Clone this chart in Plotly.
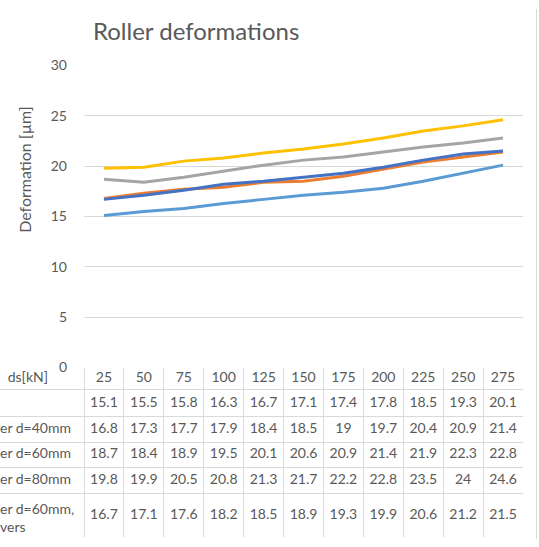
import plotly.graph_objects as go

# ---------------- data ----------------
loads = [25, 50, 75, 100, 125, 150, 175, 200, 225, 250, 275]
header_label = "ds[kN]"
series_labels = ["", "er d=40mm", "er d=60mm", "er d=80mm", "er d=60mm,<br>vers"]
s1 = [15.1, 15.5, 15.8, 16.3, 16.7, 17.1, 17.4, 17.8, 18.5, 19.3, 20.1]
s2 = [16.8, 17.3, 17.7, 17.9, 18.4, 18.5, 19, 19.7, 20.4, 20.9, 21.4]
s3 = [18.7, 18.4, 18.9, 19.5, 20.1, 20.6, 20.9, 21.4, 21.9, 22.3, 22.8]
s4 = [19.8, 19.9, 20.5, 20.8, 21.3, 21.7, 22.2, 22.8, 23.5, 24, 24.6]
s5 = [16.7, 17.1, 17.6, 18.2, 18.5, 18.9, 19.3, 19.9, 20.6, 21.2, 21.5]
y_ticks = [0, 5, 10, 15, 20, 25, 30]
title_text = "Roller deformations"
y_title = "Deformation [µm]"

# ---------------- style ----------------
W, H = 539, 547
PL, PR, PT, PB, TB = 84, 523, 58.3, 370, 545
row_h = [23, 28, 26, 26, 27, 45]
colors = ["#5B9BD5", "#ED7D31", "#A5A5A5", "#FFC000", "#4472C4"]
grid = "#D9D9D9"
txt = "#595959"
FONT = "Lato"
HEADER_LABEL_RIGHT = 48  # px where the header label ends
MULTILINE_SHIFT = 4      # px downward shift for two-line labels

series = [s1, s2, s3, s4, s5]
idx = list(range(len(loads)))
ncol = len(loads)
colw = (PR - PL) / ncol
x2lo = -0.5 - PL / colw

bounds = [0]
for h in row_h:
    bounds.append(bounds[-1] + h)
centers = [(bounds[i] + bounds[i + 1]) / 2 for i in range(len(row_h))]

fig = go.Figure()

# chart lines
for s, c in zip(series, colors):
    fig.add_trace(go.Scatter(x=idx, y=s, mode="lines", line=dict(color=c, width=3),
                             xaxis="x", yaxis="y", hoverinfo="skip", showlegend=False))

def fmt(v):
    return f"{v:g}"

# table text
rows_text = [[str(l) for l in loads]] + [[fmt(v) for v in s] for s in series]
row_labels = [header_label] + series_labels
for r, (vals, lab) in enumerate(zip(rows_text, row_labels)):
    fig.add_trace(go.Scatter(x=idx, y=[centers[r]] * ncol, mode="text", text=vals,
                             textposition="middle center",
                             textfont=dict(family=FONT, size=14, color=txt),
                             xaxis="x2", yaxis="y2", hoverinfo="skip",
                             showlegend=False, cliponaxis=False))
    if lab:
        if r == 0:
            lx, pos = x2lo + HEADER_LABEL_RIGHT / colw, "middle left"
        else:
            lx, pos = x2lo, "middle right"
        ly = centers[r] + (MULTILINE_SHIFT if "<br>" in lab else 0)
        fig.add_trace(go.Scatter(x=[lx], y=[ly], mode="text", text=[lab],
                                 textposition=pos,
                                 textfont=dict(family=FONT, size=14, color=txt),
                                 xaxis="x2", yaxis="y2", hoverinfo="skip",
                                 showlegend=False, cliponaxis=False))

fig.update_layout(
    width=W, height=H,
    margin=dict(l=0, r=0, t=0, b=0),
    paper_bgcolor="white", plot_bgcolor="white",
    font=dict(family=FONT, color=txt),
    showlegend=False,
    xaxis=dict(domain=[PL / W, PR / W], range=[-0.5, 10.5], anchor="y",
               showgrid=False, showticklabels=False, zeroline=False, showline=False),
    yaxis=dict(domain=[1 - PB / H, 1 - PT / H], range=[0, 30], anchor="x",
               tickvals=y_ticks, gridcolor=grid, gridwidth=1, zeroline=False,
               showline=False, ticklabelstandoff=16,
               tickfont=dict(family=FONT, size=14, color=txt)),
    xaxis2=dict(domain=[0, PR / W], range=[x2lo, 10.5], anchor="y2",
                tickvals=[i - 0.5 for i in range(ncol + 1)], showticklabels=False,
                showgrid=True, gridcolor=grid, gridwidth=1, zeroline=False, showline=False),
    yaxis2=dict(domain=[1 - TB / H, 1 - PB / H], range=[bounds[-1], 0], anchor="x2",
                tickvals=bounds[1:], showticklabels=False, showgrid=True,
                gridcolor=grid, gridwidth=1, zeroline=False, showline=False),
    annotations=[
        dict(text=title_text, xref="paper", yref="paper", x=196 / W, y=1 - 22 / H,
             xanchor="center", yanchor="middle", showarrow=False,
             font=dict(family=FONT, size=24, color=txt)),
        dict(text=y_title, xref="paper", yref="paper", x=25 / W, y=1 - 166 / H,
             xanchor="center", yanchor="middle", showarrow=False, textangle=-90,
             font=dict(family=FONT, size=16, color=txt)),
    ],
    shapes=[dict(type="line", xref="paper", yref="paper", x0=536.5 / W, x1=536.5 / W,
                 y0=0, y1=1, line=dict(color=grid, width=1))],
)

fig.write_html("out.html")
